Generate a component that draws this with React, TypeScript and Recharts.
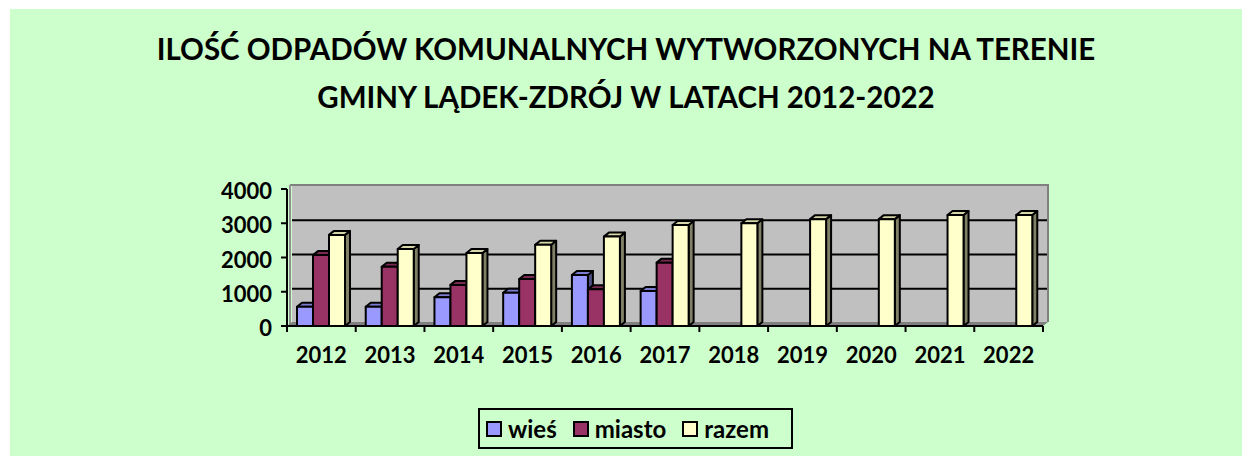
import React from "react";
import { BarChart, Bar, XAxis, YAxis, CartesianGrid, Customized } from "recharts";

const years = ["2012", "2013", "2014", "2015", "2016", "2017", "2018", "2019", "2020", "2021", "2022"];
const wies = [560, 560, 840, 970, 1490, 1020, null, null, null, null, null];
const miasto = [2070, 1730, 1200, 1370, 1070, 1850, null, null, null, null, null];
const razem = [2660, 2250, 2130, 2370, 2610, 2950, 3000, 3120, 3120, 3240, 3240];
const yTicks = [0, 1000, 2000, 3000, 4000];
const seriesNames = ["wieś", "miasto", "razem"];

const data = years.map((year, i) => ({ year, wies: wies[i], miasto: miasto[i], razem: razem[i] }));

const W = 1232;
const H = 447;
const MARGIN = { top: 180, right: 199, bottom: 100, left: 207 };
const Y_AXIS_W = 70;
const X_AXIS_H = 30;
const PLOT_X = MARGIN.left + Y_AXIS_W;
const PLOT_Y = MARGIN.top;
const PLOT_W = W - PLOT_X - MARGIN.right;
const PLOT_H = H - MARGIN.top - MARGIN.bottom - X_AXIS_H;
const BAND = PLOT_W / years.length;
const DX = 5;
const DY = 4;
const FONT = "Lato, 'Open Sans', sans-serif";

const colors = {
  wies: { front: "#9999FF", top: "#7B7BD0", side: "#4D4D80" },
  miasto: { front: "#993366", top: "#7A2952", side: "#4D1A33" },
  razem: { front: "#FFFFCC", top: "#D6D6A8", side: "#808066" },
};

const make3DBar = (c: { front: string; top: string; side: string }) => (props: any) => {
  const { x, y, width, height } = props;
  if (height == null || height <= 0 || x == null) return <g />;
  return (
    <g stroke="#000" strokeWidth={2} strokeLinejoin="round">
      <polygon
        points={`${x + width},${y} ${x + width + DX},${y - DY} ${x + width + DX},${y + height - DY} ${x + width},${y + height}`}
        fill={c.side}
      />
      <polygon
        points={`${x},${y} ${x + DX},${y - DY} ${x + width + DX},${y - DY} ${x + width},${y}`}
        fill={c.top}
      />
      <rect x={x} y={y} width={width} height={height} fill={c.front} />
    </g>
  );
};

// floor strip and the darker edges of the back wall
const WallEdges = () => {
  const bottom = PLOT_Y + PLOT_H;
  return (
    <g>
      <polyline
        points={`${PLOT_X + 3},${PLOT_Y - DY} ${PLOT_X + PLOT_W + DX},${PLOT_Y - DY} ${PLOT_X + PLOT_W + DX},${bottom - DY}`}
        fill="none"
        stroke="#808080"
        strokeWidth={2}
      />
      <line x1={PLOT_X + 3} y1={PLOT_Y - DY} x2={PLOT_X + 3} y2={bottom} stroke="#909090" strokeWidth={2} />
      <polygon
        points={`${PLOT_X},${bottom} ${PLOT_X + DX},${bottom - DY} ${PLOT_X + PLOT_W + DX},${bottom - DY} ${PLOT_X + PLOT_W},${bottom}`}
        fill="#808080"
      />
    </g>
  );
};

const gridLine = (props: any) => {
  const { x1, y1, x2, y2 } = props;
  if (Math.abs(y1 - PLOT_Y) < 1 || Math.abs(y1 - (PLOT_Y + PLOT_H)) < 1) return <g key={props.key} />;
  return <line key={props.key} x1={x1} y1={y1 - DY + 1} x2={x2} y2={y2 - DY + 1} stroke="#000" strokeWidth={2} />;
};

const XTick = (props: any) => {
  const { x, y, payload, index } = props;
  return (
    <g>
      <line x1={x - BAND / 2} y1={y} x2={x - BAND / 2} y2={y + 6} stroke="#000" strokeWidth={2} />
      {index === years.length - 1 && (
        <line x1={x + BAND / 2} y1={y} x2={x + BAND / 2} y2={y + 6} stroke="#000" strokeWidth={2} />
      )}
      <text x={x} y={y + 37} textAnchor="middle" fontFamily={FONT} fontWeight="bold" fontSize={22} fill="#000">
        {payload.value}
      </text>
    </g>
  );
};

const YTick = (props: any) => {
  const { x, y, payload } = props;
  return (
    <text x={x} y={y + 10} textAnchor="end" fontFamily={FONT} fontWeight="bold" fontSize={22} fill="#000">
      {payload.value}
    </text>
  );
};

const legendColors = [colors.wies.front, colors.miasto.front, colors.razem.front];

export default function App() {
  return (
    <div style={{ position: "absolute", left: 10, top: 9, width: W, height: H, background: "#CCFFCC", fontFamily: FONT }}>
      <div
        style={{
          position: "absolute",
          left: 0,
          width: W,
          top: 16,
          textAlign: "center",
          fontWeight: "bold",
          fontSize: 29.5,
          lineHeight: "48px",
          color: "#000",
        }}
      >
        <div>ILOŚĆ ODPADÓW KOMUNALNYCH WYTWORZONYCH NA TERENIE</div>
        <div>GMINY LĄDEK-ZDRÓJ W LATACH 2012-2022</div>
      </div>
      <BarChart
        width={W}
        height={H}
        data={data}
        margin={MARGIN}
        barCategoryGap={10}
        barGap={0}
        style={{ position: "absolute", left: 0, top: 0 }}
      >
        <CartesianGrid
          x={PLOT_X + DX}
          y={PLOT_Y - DY}
          width={PLOT_W}
          height={PLOT_H}
          fill="#C0C0C0"
          fillOpacity={1}
          vertical={false}
          horizontal={gridLine}
          stroke="#000"
        />
        <Customized component={<WallEdges />} />
        <XAxis
          dataKey="year"
          height={X_AXIS_H}
          tick={<XTick />}
          tickLine={false}
          tickSize={0}
          tickMargin={0}
          interval={0}
          axisLine={{ stroke: "#000", strokeWidth: 2 }}
        />
        <YAxis
          width={Y_AXIS_W}
          domain={[0, 4000]}
          ticks={yTicks}
          interval={0}
          tick={<YTick />}
          tickSize={6}
          tickMargin={9}
          tickLine={{ stroke: "#000", strokeWidth: 2 }}
          axisLine={{ stroke: "#000", strokeWidth: 2 }}
        />
        <Bar dataKey="wies" name={seriesNames[0]} fill={colors.wies.front} shape={make3DBar(colors.wies)} isAnimationActive={false} />
        <Bar dataKey="miasto" name={seriesNames[1]} fill={colors.miasto.front} shape={make3DBar(colors.miasto)} isAnimationActive={false} />
        <Bar dataKey="razem" name={seriesNames[2]} fill={colors.razem.front} shape={make3DBar(colors.razem)} isAnimationActive={false} />
      </BarChart>
      <div
        style={{
          position: "absolute",
          left: 468,
          top: 399,
          width: 305,
          height: 37,
          border: "2px solid #000",
          display: "flex",
          alignItems: "center",
          paddingLeft: 6,
          boxSizing: "content-box",
          fontWeight: "bold",
          fontSize: 24,
          color: "#000",
        }}
      >
        {seriesNames.map((n, i) => (
          <span key={n} style={{ display: "flex", alignItems: "center", marginRight: i < 2 ? 16 : 0 }}>
            <span
              style={{
                display: "inline-block",
                width: 12,
                height: 12,
                border: "2px solid #000",
                background: legendColors[i],
                marginRight: 6,
              }}
            />
            {n}
          </span>
        ))}
      </div>
    </div>
  );
}
